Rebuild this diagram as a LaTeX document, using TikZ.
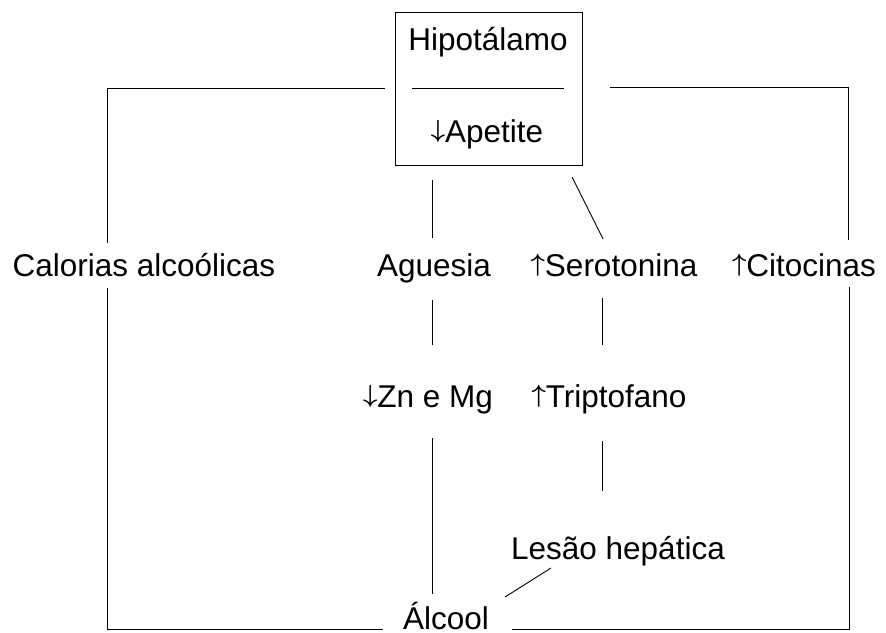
\documentclass[tikz,border=0pt]{standalone}
\usepackage{fontspec}
\setmainfont{Liberation Sans}
\usetikzlibrary{calc}
\newcommand{\myup}{\raisebox{5pt}{\boldmath$\uparrow$}}
\newcommand{\mydown}{\raisebox{5pt}{\boldmath$\downarrow$}}
\tikzset{
  lbl/.style={inner sep=0pt, outer sep=0pt, text height=22pt, text depth=7pt, anchor=base, font=\fontsize{31.5}{37}\selectfont},
  ln/.style={draw=black, line width=0.9pt},
  hbox/.style={draw=black, line width=0.9pt, minimum width=186.5pt, minimum height=153pt, inner sep=0pt, outer sep=0pt}
}
\begin{document}
\begin{tikzpicture}[x=1pt,y=-1pt]
\useasboundingbox (0,0) rectangle (886,632);
% box
\node[hbox] (box) at (489,88.5) {};
\node[lbl] (hip) at (488,50) {Hipotálamo};
\node[lbl] (ape) at (487,142) {\mydown Apetite};
% labels
\node[lbl] (cal) at (144,276) {Calorias alcoólicas};
\node[lbl] (agu) at (434,276) {Aguesia};
\node[lbl] (ser) at (614,276) {\myup Serotonina};
\node[lbl] (cit) at (804,276) {\myup Citocinas};
\node[lbl] (zn) at (428,407) {\mydown Zn e Mg};
\node[lbl] (tri) at (609,407) {\myup Triptofano};
\node[lbl] (les) at (618,559) {Lesão hepática};
\node[lbl, text depth=0pt] (alc) at (446,629) {Álcool};
% connectors
\draw[ln] ($(box.west)+(16.5,-0.5)$) -- ($(box.east)+(-18,-0.5)$);
\draw[ln] ($(box.west)+(-11,-0.5)$) -| ($(cal.north)+(-37,-11)$);
\draw[ln] ($(cal.south)+(-37,5)$) |- ($(alc.base west)+(-20,0)$);
\draw[ln] ($(box.east)+(28,-1.5)$) -| ($(cit.north)+(44,-14)$);
\draw[ln] ($(cit.south)+(45,4)$) |- ($(alc.base east)+(23,0)$);
\draw[ln] ($(box.south -| agu)+(-2,15)$) -- ($(agu.north)+(-2,-16)$);
\draw[ln] ($(agu.south)+(-2,17)$) -- ($(zn.north)+(4,-40)$);
\draw[ln] ($(zn.south)+(4,24)$) -- ($(alc.north -| zn)+(4,-13)$);
\draw[ln] ($(box.south)+(83,12)$) -- ($(ser.north)+(-11,-15)$);
\draw[ln] ($(ser.south)+(-12,15)$) -- ($(tri.north)+(-7,-40)$);
\draw[ln] ($(tri.south)+(-7,27)$) -- ($(les.north)+(-16,-46)$);
\draw[ln] ($(les.south)+(-67,2)$) -- ($(alc.north)+(59,-10)$);
\end{tikzpicture}
\end{document}
